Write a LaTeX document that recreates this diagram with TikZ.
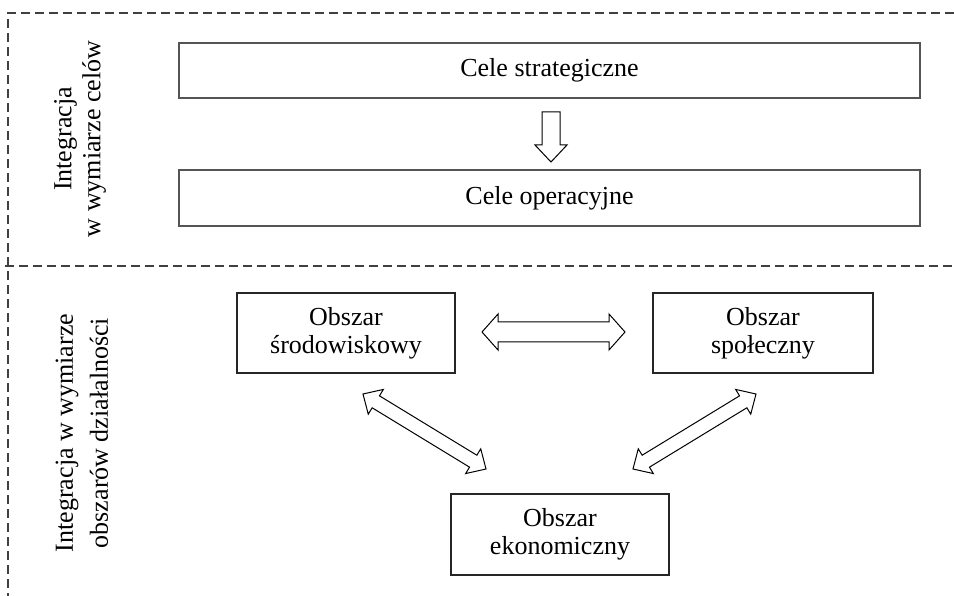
\documentclass[tikz,border=0pt]{standalone}
\usepackage{fontspec}
\setmainfont{Liberation Serif}
\usetikzlibrary{calc}
\definecolor{dashgray}{HTML}{404040}
\definecolor{boxgray}{HTML}{555555}
\tikzset{
  sep/.style={draw=dashgray, line width=1.2pt, dash pattern=on 9pt off 5pt},
  topbox/.style={draw=boxgray, line width=1.6pt, minimum width=741pt, minimum height=55pt, inner sep=0pt, font=\fontsize{26}{28}\selectfont},
  areabox/.style={draw=black!85, line width=1.2pt, minimum width=218pt, minimum height=80pt, inner sep=0pt, align=center, font=\fontsize{26}{28}\selectfont},
  sidelabel/.style={rotate=90, align=center, inner sep=0pt},
  blockarr/.style={draw=black, line width=1pt, fill=white, line join=miter}
}
% double block arrow from #1 to #2: head length #3, head half-width #4, shaft half-width #5
\newcommand{\dblarrow}[5]{%
  \path[blockarr] (#1)
    -- ($(#1)!#3!(#2)!#4!90:(#2)$)
    -- ($(#1)!#3!(#2)!#5!90:(#2)$)
    -- ($(#2)!#3!(#1)!#5!-90:(#1)$)
    -- ($(#2)!#3!(#1)!#4!-90:(#1)$)
    -- (#2)
    -- ($(#2)!#3!(#1)!#4!90:(#1)$)
    -- ($(#2)!#3!(#1)!#5!90:(#1)$)
    -- ($(#1)!#3!(#2)!#5!-90:(#2)$)
    -- ($(#1)!#3!(#2)!#4!-90:(#2)$)
    -- cycle;}
% single block arrow from #1 (flat end) to #2 (tip)
\newcommand{\sglarrow}[5]{%
  \path[blockarr] ($(#1)!#5!90:(#2)$)
    -- ($(#2)!#3!(#1)!#5!-90:(#1)$)
    -- ($(#2)!#3!(#1)!#4!-90:(#1)$)
    -- (#2)
    -- ($(#2)!#3!(#1)!#4!90:(#1)$)
    -- ($(#2)!#3!(#1)!#5!90:(#1)$)
    -- ($(#1)!#5!-90:(#2)$)
    -- cycle;}
\begin{document}
\begin{tikzpicture}[x=1pt, y=-1pt]
\useasboundingbox (0,0) rectangle (954,596);
\fill[white] (0,0) rectangle (954,596);
% section frame
\coordinate (tl) at (8,13);
\coordinate (tr) at (954,13);
\coordinate (bl) at (8,596);
\coordinate (ml) at (5,266);
\coordinate (mr) at (954,266);
\draw[sep] (tr) -- (tl) -- (bl);
\draw[sep] (ml) -- (mr);
% side labels
\node[sidelabel, font=\fontsize{26}{29}\selectfont] (lab1) at (80,139) {Integracja\\w wymiarze celów};
\node[sidelabel, font=\fontsize{26}{35}\selectfont] (lab2) at (82,433) {Integracja w wymiarze\\obszarów działalności};
% goal boxes
\node[topbox] (strat) at (549.5,70.5) {Cele strategiczne};
\node[topbox, minimum height=56pt] (oper) at (549.5,198) {Cele operacyjne};
% area boxes
\node[areabox] (env) at (346,333) {Obszar\\środowiskowy};
\node[areabox, minimum width=220pt] (soc) at (763,333) {Obszar\\społeczny};
\node[areabox, minimum height=81pt] (eco) at (560,534.5) {Obszar\\ekonomiczny};
% arrow end points
\coordinate (d1) at (551,112);
\coordinate (d2) at (551,162);
\coordinate (h1) at (482,332);
\coordinate (h2) at (625,332);
\coordinate (l1) at (363,394);
\coordinate (l2) at (486,469);
\coordinate (r1) at (756,394);
\coordinate (r2) at (633,469);
\sglarrow{d1}{d2}{17pt}{16pt}{9pt}
\dblarrow{h1}{h2}{16pt}{18pt}{10pt}
\dblarrow{l1}{l2}{15pt}{14.5pt}{7pt}
\dblarrow{r1}{r2}{15pt}{14.5pt}{7pt}
\end{tikzpicture}
\end{document}
